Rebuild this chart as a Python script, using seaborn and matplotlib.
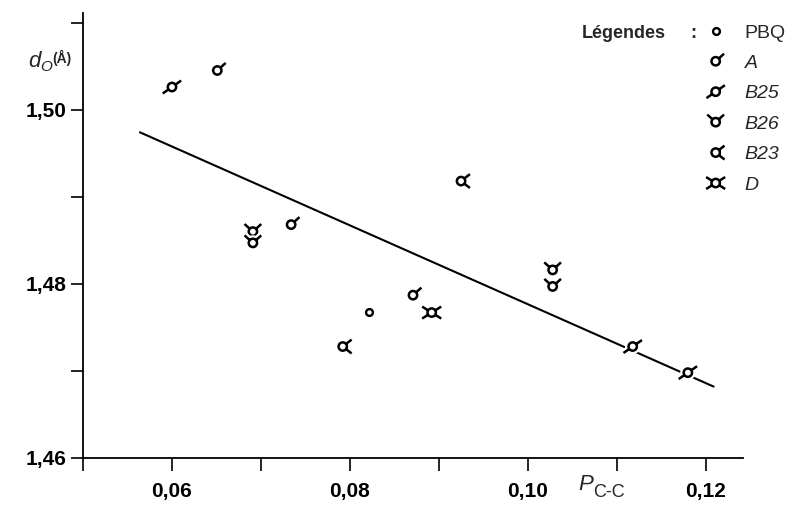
import numpy as np
import seaborn as sns
import matplotlib.pyplot as plt
import matplotlib.patheffects as pe
from matplotlib.path import Path

pbq_x = [0.0821]
pbq_y = [1.4768]
a_x = [0.0651, 0.0734, 0.0871]
a_y = [1.5045, 1.4868, 1.4787]
b25_x = [0.0600, 0.1118, 0.1180]
b25_y = [1.5026, 1.4728, 1.4698]
b26_x = [0.0691, 0.0691, 0.1028, 0.1028]
b26_y = [1.4860, 1.4847, 1.4816, 1.4797]
b23_x = [0.0792, 0.0925]
b23_y = [1.4728, 1.4918]
d_x = [0.0892]
d_y = [1.4767]

# straight line drawn on the figure (two ends)
fit_x = [0.0564, 0.1209]
fit_y = [1.4974, 1.4682]

x_ticks = [0.05, 0.06, 0.07, 0.08, 0.09, 0.10, 0.11, 0.12]
x_labels = ['', '0,06', '', '0,08', '', '0,10', '', '0,12']
y_ticks = [1.46, 1.47, 1.48, 1.49, 1.50, 1.51]
y_labels = ['1,46', '', '1,48', '', '1,50', '']


def glyph(angles, tail=2.7):
    # small circle with straight strokes going out of it
    parts = [Path.circle((0, 0), 1.0)]
    for a in angles:
        t = np.radians(a)
        c, s = np.cos(t), np.sin(t)
        parts.append(Path([(c, s), (tail * c, tail * s)], [Path.MOVETO, Path.LINETO]))
    return Path.make_compound_path(*parts)


R_PT = 3.0  # radius of the circle part, points

groups = [
    ('PBQ', pbq_x, pbq_y, None),
    ('A', a_x, a_y, [42]),
    ('B25', b25_x, b25_y, [35, 215]),
    ('B26', b26_x, b26_y, [42, 138]),
    ('B23', b23_x, b23_y, [38, -38]),
    ('D', d_x, d_y, [32, 148, 212, -32]),
]

sns.set_style('ticks')
plt.rcParams['font.family'] = ['Liberation Sans', 'DejaVu Sans']

fig, ax = plt.subplots(figsize=(7.88, 5.14), dpi=100)
fig.subplots_adjust(left=83 / 788, right=743 / 788, bottom=56 / 514, top=501 / 514)

sns.lineplot(x=fit_x, y=fit_y, color='black', linewidth=1.5, ax=ax, zorder=1)

halo = [pe.withStroke(linewidth=5, foreground='white')]
for name, xs, ys, angles in groups:
    if angles is None:
        sns.scatterplot(x=xs, y=ys, marker='o', s=24, facecolor='white',
                        edgecolor='black', linewidth=1.7, ax=ax, zorder=3,
                        label=name)
        continue
    path = glyph(angles)
    ext = np.abs(path.vertices).max()
    ms = 2 * ext * R_PT
    sns.scatterplot(x=xs, y=ys, marker=path, s=ms ** 2, facecolor='white',
                    edgecolor='black', linewidth=1.8, ax=ax, zorder=3,
                    label=name, path_effects=halo)

ax.set_xlim(0.05, 0.1242)
ax.set_ylim(1.46, 1.5111)
ax.set_xticks(x_ticks)
ax.set_xticklabels(x_labels)
ax.set_yticks(y_ticks)
ax.set_yticklabels(y_labels)
ax.tick_params(axis='both', direction='out', length=9, width=1.2, color='black',
               labelsize=15, labelcolor='black')
ax.tick_params(axis='x', pad=8)
ax.tick_params(axis='y', pad=3)
for t in ax.get_xticklabels() + ax.get_yticklabels():
    t.set_fontweight('bold')
sns.despine(ax=ax)
for side in ['left', 'bottom']:
    ax.spines[side].set_linewidth(1.3)
    ax.spines[side].set_color('black')
ax.set_xlabel('')
ax.set_ylabel('')

leg = ax.legend(loc='upper left', bbox_to_anchor=(704 / 788, 1 - 24 / 514),
                bbox_transform=fig.transFigure, frameon=False, fontsize=14,
                borderpad=0, borderaxespad=0, handlelength=1.2,
                handletextpad=0.9, labelspacing=0.66, scatteryoffsets=[0.5])
for i, t in enumerate(leg.get_texts()):
    if i > 0:
        t.set_style('italic')

fig.text(582 / 788, 1 - 34 / 514, 'Légendes', fontsize=13, fontweight='bold',
         va='center', ha='left')
fig.text(693 / 788, 1 - 34 / 514, ':', fontsize=13, fontweight='bold',
         va='center', ha='center')

# axis labels, put together piece by piece
fig.text(28 / 788, 1 - 67 / 514, 'd', fontsize=16, style='italic', va='baseline')
fig.text(40 / 788, 1 - 71 / 514, 'O', fontsize=11, style='italic', va='baseline')
fig.text(52 / 788, 1 - 63 / 514, '(Å)', fontsize=10, fontweight='bold', va='baseline')
fig.text(578 / 788, 1 - 490 / 514, 'P', fontsize=16, style='italic', va='baseline')
fig.text(593 / 788, 1 - 497 / 514, 'C-C', fontsize=13, va='baseline')

fig.savefig('out.png', dpi=100)
